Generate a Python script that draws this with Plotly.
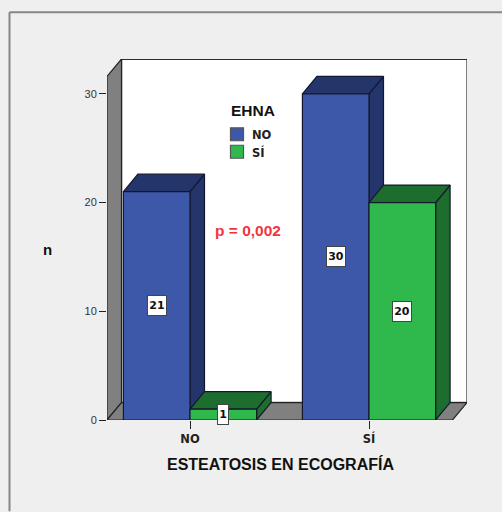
import plotly.graph_objects as go

categories = ["NO", "SÍ"]
legend_title = "EHNA"
series_names = ["NO", "SÍ"]
series_no = [21, 30]
series_si = [1, 20]
y_ticks = [0, 10, 20, 30]
x_title = "ESTEATOSIS EN ECOGRAFÍA"
y_title = "n"
p_text = "p = 0,002"

W, H = 502, 512
L, R, T, B = 107, 467, 58.5, 420.5
XMIN, XMAX = -0.4637, 1.5475
YMAX = 33.2
BAR_W = 0.372
DX = 14.5 / (R - L) * (XMAX - XMIN)
DY = 17.5 / (B - T) * YMAX

BLUE, BLUE_D = "#3e58a9", "#24356c"
GREEN, GREEN_D = "#2fb94c", "#1d6e2e"
WALL = "#808080"
EDGE = "#14182c"


def px(x):
    return (x - L) / (R - L)


def py(y):
    return (B - y) / (B - T)


fig = go.Figure()


def poly(xs, ys, fill, line=EDGE, lw=1.2, name=None):
    fig.add_trace(go.Scatter(
        x=xs + xs[:1], y=ys + ys[:1], mode="lines", fill="toself", fillcolor=fill,
        line=dict(color=line, width=lw), showlegend=False, hoverinfo="skip",
        cliponaxis=False, name=name))


# room: back wall, left wall, floor
x_front_l, x_front_r = XMIN, XMAX - DX
poly([x_front_l + DX, XMAX, XMAX, x_front_l + DX], [DY, DY, YMAX, YMAX], "#ffffff", line="#555555", lw=1.5)
fig.add_trace(go.Scatter(x=[x_front_l + DX, XMAX], y=[YMAX, YMAX], mode="lines",
                         line=dict(color="#111111", width=1.5), showlegend=False,
                         hoverinfo="skip", cliponaxis=False))
poly([x_front_l, x_front_l + DX, x_front_l + DX, x_front_l], [0, DY, YMAX, YMAX - DY], WALL, line="#222222")
poly([x_front_l, x_front_r, XMAX, x_front_l + DX], [0, 0, DY, DY], WALL, line="#222222")


def bar3d(x0, value, front, dark, name):
    x1 = x0 + BAR_W
    poly([x1, x1 + DX, x1 + DX, x1], [0, DY, value + DY, value], dark, name=name)
    poly([x0, x0 + DX, x1 + DX, x1], [value, value + DY, value + DY, value], dark, name=name)
    poly([x0, x1, x1, x0], [0, 0, value, value], front, name=name)


for i in range(len(categories)):
    bar3d(i - BAR_W, series_no[i], BLUE, BLUE_D, series_names[0])
    bar3d(i, series_si[i], GREEN, GREEN_D, series_names[1])

ann = []
shapes = []
for i in range(len(categories)):
    for off, vals in ((-BAR_W / 2, series_no), (BAR_W / 2, series_si)):
        label = str(vals[i])
        ann.append(dict(x=i + off, y=vals[i] / 2, xref="x", yref="y", text=f"<b>{label}</b>",
                        showarrow=False, bgcolor="#ffffff", bordercolor="#444444", borderwidth=1,
                        borderpad=1, width=8 * len(label), height=17,
                        font=dict(family="DejaVu Sans", size=11, color="#111111")))

center = dict(xanchor="center", yanchor="middle", showarrow=False, xref="paper", yref="paper")
ann += [
    dict(x=px(280), y=py(465), text=f"<b>{x_title}</b>",
         font=dict(family="Liberation Sans", size=16, color="#111111"), **center),
    dict(x=px(47.5), y=py(250), text=f"<b>{y_title}</b>",
         font=dict(family="Liberation Sans", size=15, color="#111111"), **center),
    dict(x=px(248), y=py(230), text=f"<b>{p_text}</b>",
         font=dict(family="Liberation Sans", size=15.5, color="#f2343f"), **center),
    dict(x=px(229), y=py(110), xanchor="left", yanchor="middle", xref="paper", yref="paper",
         text=f"<b>{legend_title}</b>", showarrow=False,
         font=dict(family="Liberation Sans", size=15.5, color="#111111")),
]
for name, col, yc in zip(series_names, (BLUE, GREEN), (134, 151.5)):
    shapes.append(dict(type="rect", xref="paper", yref="paper", x0=px(230.5), x1=px(243.5),
                       y0=py(yc - 6.5), y1=py(yc + 6.5), fillcolor=col,
                       line=dict(color="#555555", width=1.2)))
    ann.append(dict(x=px(250), y=py(yc + 0.5), xref="paper", yref="paper", xanchor="left", yanchor="middle",
                    text=f"<b>{name}</b>", showarrow=False,
                    font=dict(family="DejaVu Sans", size=11.5, color="#222222")))

# outer chart frame
frame = dict(color="#868686", width=2)
shapes.append(dict(type="line", xref="paper", yref="paper", x0=px(9.5), x1=px(W), y0=py(11.5), y1=py(11.5), line=frame))
shapes.append(dict(type="line", xref="paper", yref="paper", x0=px(9.5), x1=px(9.5), y0=py(11.5), y1=py(H), line=frame))

fig.update_layout(
    width=W, height=H, autosize=False,
    margin=dict(l=L, r=W - R, t=T, b=H - B, pad=0),
    paper_bgcolor="#efefef", plot_bgcolor="rgba(0,0,0,0)",
    showlegend=False, annotations=ann, shapes=shapes,
    xaxis=dict(range=[XMIN, XMAX], tickvals=list(range(len(categories))),
               ticktext=[f"<b>{c}</b>" for c in categories],
               ticks="outside", ticklen=8, tickcolor="#222222", tickwidth=1, showgrid=False,
               zeroline=False, showline=False,
               tickfont=dict(family="DejaVu Sans", size=11.5, color="#222222")),
    yaxis=dict(range=[0, YMAX], tickvals=y_ticks, ticks="outside", ticklen=7, tickcolor="#222222",
               tickwidth=1, showgrid=False, zeroline=False, showline=False,
               tickfont=dict(family="Liberation Sans", size=11, color="#333333")),
)
fig.write_html("out.html", post_script="document.body.style.margin='0';",
               config={"displayModeBar": False})
